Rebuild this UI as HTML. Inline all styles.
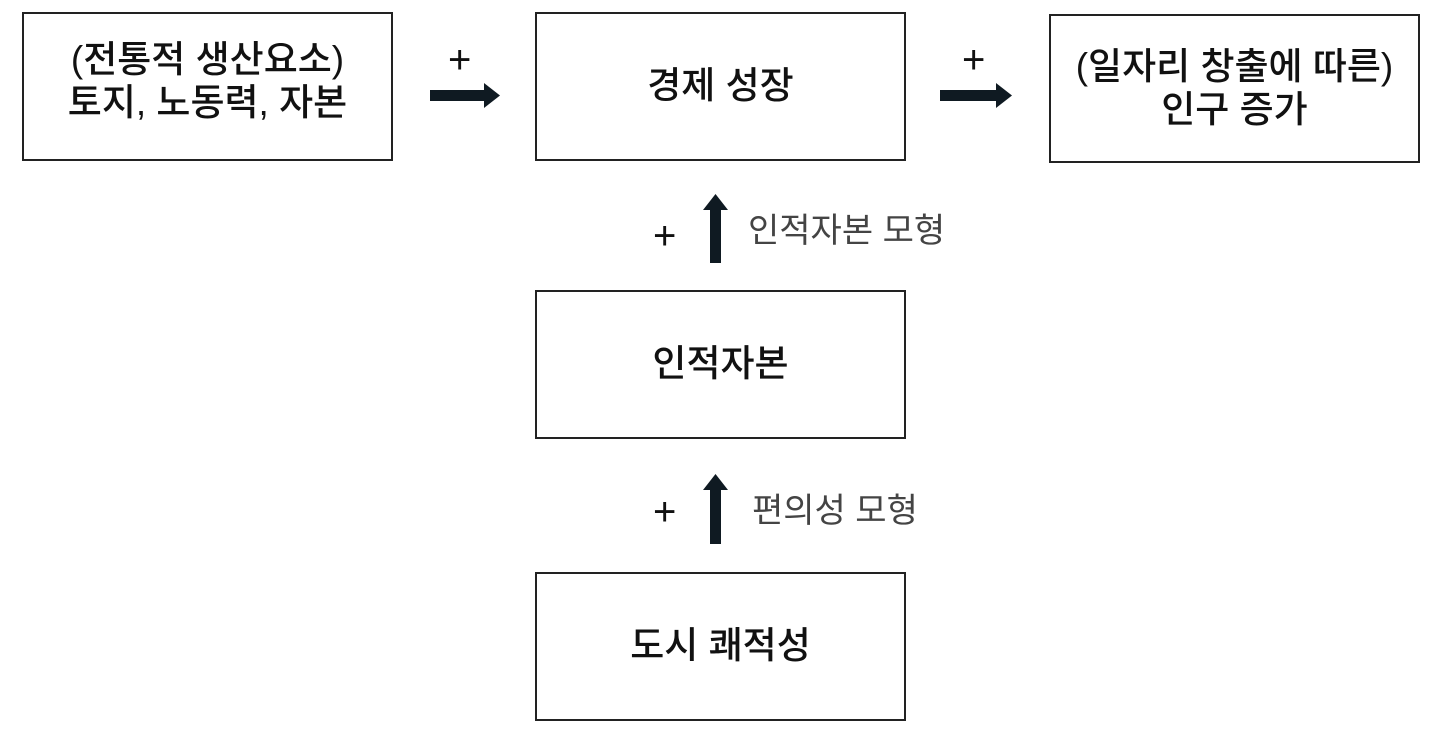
<!DOCTYPE html>
<html><head><meta charset="utf-8"><style>
body{margin:0;width:1436px;height:729px;background:#fff;position:relative;overflow:hidden;font-family:"Liberation Sans","Noto Sans CJK KR",sans-serif;}
.b{position:absolute;border:2px solid #222;box-sizing:border-box;display:flex;align-items:center;justify-content:center;text-align:center;font-size:37px;font-weight:500;color:#111;line-height:1.15;}
.t{position:absolute;font-size:40px;color:#111;line-height:1;}
.l{position:absolute;font-size:34px;color:#444;line-height:1;}
</style></head><body>
<div class="b" style="left:22px;top:12px;width:371px;height:149px;"><div style="margin-top:-10px">(전통적 생산요소)<br>토지, 노동력, 자본</div></div>
<div class="b" style="left:535px;top:12px;width:371px;height:149px;"><div style="margin-top:0px">경제 성장</div></div>
<div class="b" style="left:1049px;top:14px;width:371px;height:149px;"><div style="margin-top:0px">(일자리 창출에 따른)<br>인구 증가</div></div>
<div class="b" style="left:535px;top:290px;width:371px;height:149px;">인적자본</div>
<div class="b" style="left:535px;top:572px;width:371px;height:149px;">도시 쾌적성</div>
<svg width="1436" height="729" style="position:absolute;left:0;top:0">
<g fill="#0f1a22">
<rect x="430" y="90" width="56" height="11"/><polygon points="484,83 500,95.5 484,108"/>
<rect x="940" y="90" width="58" height="11"/><polygon points="996,83 1012,95.5 996,108"/>
<rect x="710" y="208" width="11" height="55"/><polygon points="703,210 715.5,194 728,210"/>
<rect x="710" y="488" width="11" height="56"/><polygon points="703,490 715.5,474 728,490"/>
</g></svg>
<div class="t" style="left:448px;top:40px;">+</div>
<div class="t" style="left:962px;top:40px;">+</div>
<div class="t" style="left:653px;top:216px;">+</div>
<div class="t" style="left:653px;top:492px;">+</div>
<div class="l" style="left:748px;top:214px;">인적자본 모형</div>
<div class="l" style="left:752px;top:494px;">편의성 모형</div>
</body></html>
